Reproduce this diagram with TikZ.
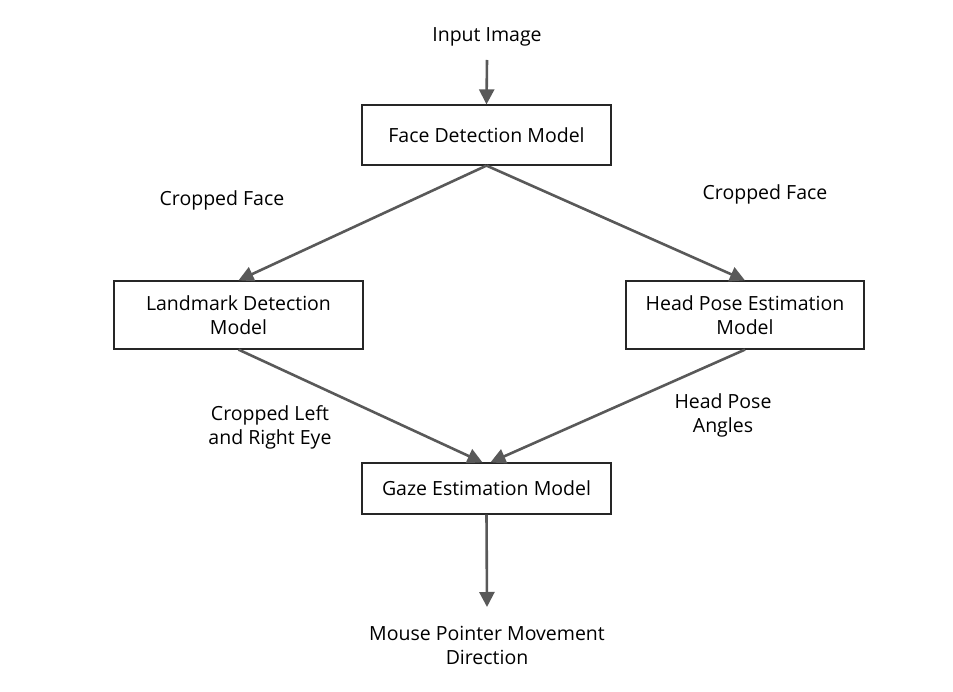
\documentclass[tikz,border=0pt]{standalone}
\usepackage{fontspec}
\setmainfont{Open Sans}
\usetikzlibrary{arrows.meta}
\definecolor{arrowgray}{HTML}{595959}
\begin{document}
\begin{tikzpicture}[x=1pt,y=-1pt,
  box/.style={draw=black!85,line width=1.2pt,fill=white,minimum width=#1,align=center,inner sep=0pt},
  lbl/.style={align=center,inner sep=0pt},
  conn/.style={draw=arrowgray,line width=2.6pt,-{Triangle[length=15pt,width=15pt]}}]
\useasboundingbox (0,0) rectangle (953,692);
\tikzset{every node/.append style={font=\fontsize{19.5}{24}\selectfont}}
\node[lbl] (in) at (487,37) {Input Image};
\node[box=249pt,minimum height=60pt] (face) at (486.5,135) {Face Detection Model};
\node[box=249pt,minimum height=68pt] (land) at (238.5,315) {Landmark Detection\\Model};
\node[box=238pt,minimum height=68pt] (head) at (745,315) {Head Pose Estimation\\Model};
\node[box=249pt,minimum height=51pt] (gaze) at (486.5,488.5) {Gaze Estimation Model};
\node[lbl] (out) at (487,645) {Mouse Pointer Movement\\Direction};
\node[lbl] (cf1) at (222,200) {Cropped Face};
\node[lbl] (cf2) at (765,194) {Cropped Face};
\node[lbl] (eye) at (270,427) {Cropped Left\\and Right Eye};
\node[lbl] (ang) at (723,415) {Head Pose\\Angles};
\coordinate (inarr) at (487,60);
\coordinate (outarr) at (487,607);
\draw[conn] (inarr) -- (face.north);
\draw[conn] (face.south) -- (land.north);
\draw[conn] (face.south) -- (head.north);
\draw[conn] (land.south) -- ([xshift=-4pt]gaze.north);
\draw[conn] (head.south) -- ([xshift=4pt]gaze.north);
\draw[conn] (gaze.south) -- (outarr);
\end{tikzpicture}
\end{document}
